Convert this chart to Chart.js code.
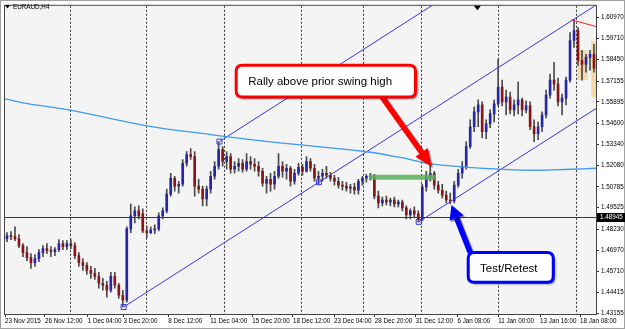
<!DOCTYPE html>
<html>
<head>
<meta charset="utf-8">
<script src="https://cdn.jsdelivr.net/npm/chart.js@4.4.0/dist/chart.umd.min.js"></script>
<title>EURAUD,H4</title>
<style>
  html, body { margin: 0; padding: 0; background: #fff; }
</style>
</head>
<body>
<canvas id="myChart" width="625" height="329"></canvas>
<script>
// EURAUD H4 candles, one entry per bar (bar index = position in array)
const opens = [
  1.4766, 1.4784, 1.4778, 1.4766, 1.4724, 1.4682, 1.4652, 1.4622, 1.4646, 1.4682,
  1.4706, 1.4694, 1.4688, 1.4700, 1.4736, 1.4718, 1.4736, 1.4724, 1.4664, 1.4622,
  1.4605, 1.4575, 1.4557, 1.4539, 1.4497, 1.4485, 1.4455, 1.4539, 1.4485, 1.4425,
  1.4396, 1.4825, 1.4903, 1.4933, 1.4915, 1.4813, 1.4802, 1.4819, 1.4825, 1.4903,
  1.4933, 1.5034, 1.5130, 1.5082, 1.5094, 1.5220, 1.5273, 1.5261, 1.5082, 1.5064,
  1.5005, 1.5064, 1.5142, 1.5202, 1.5303, 1.5231, 1.5261, 1.5184, 1.5202, 1.5220,
  1.5184, 1.5231, 1.5214, 1.5202, 1.5172, 1.5100, 1.5124, 1.5094, 1.5142, 1.5202,
  1.5172, 1.5190, 1.5112, 1.5160, 1.5196, 1.5172, 1.5231, 1.5190, 1.5130, 1.5142,
  1.5160, 1.5148, 1.5130, 1.5112, 1.5088, 1.5082, 1.5070, 1.5076, 1.5058, 1.5112,
  1.5130, 1.5142, 1.5136, 1.5022, 1.4981, 1.4999, 1.4987, 1.4999, 1.4975, 1.4987,
  1.4951, 1.4909, 1.4933, 1.4915, 1.4885, 1.5076, 1.5136, 1.5160, 1.5088, 1.5058,
  1.5028, 1.4999, 1.4993, 1.5088, 1.5160, 1.5202, 1.5321, 1.5440, 1.5530, 1.5572,
  1.5410, 1.5458, 1.5518, 1.5578, 1.5679, 1.5590, 1.5619, 1.5542, 1.5572, 1.5602,
  1.5542, 1.5566, 1.5440, 1.5399, 1.5440, 1.5512, 1.5631, 1.5721, 1.5697, 1.5590,
  1.5613, 1.5721, 1.5960, 1.6019, 1.5840, 1.5816, 1.5858, 1.5876
];
const highs = [
  1.4802, 1.4808, 1.4837, 1.4790, 1.4736, 1.4718, 1.4676, 1.4670, 1.4700, 1.4724,
  1.4736, 1.4718, 1.4712, 1.4760, 1.4754, 1.4754, 1.4760, 1.4742, 1.4682, 1.4646,
  1.4622, 1.4599, 1.4587, 1.4563, 1.4527, 1.4509, 1.4563, 1.4563, 1.4497, 1.4455,
  1.4837, 1.4975, 1.4957, 1.4963, 1.4945, 1.4843, 1.4837, 1.4849, 1.4921, 1.4951,
  1.5064, 1.5160, 1.5142, 1.5112, 1.5243, 1.5291, 1.5309, 1.5291, 1.5124, 1.5082,
  1.5082, 1.5172, 1.5231, 1.5351, 1.5321, 1.5291, 1.5279, 1.5231, 1.5249, 1.5243,
  1.5279, 1.5261, 1.5249, 1.5231, 1.5190, 1.5142, 1.5160, 1.5172, 1.5279, 1.5231,
  1.5214, 1.5202, 1.5184, 1.5220, 1.5214, 1.5261, 1.5249, 1.5214, 1.5172, 1.5184,
  1.5202, 1.5166, 1.5148, 1.5136, 1.5112, 1.5106, 1.5094, 1.5100, 1.5124, 1.5142,
  1.5154, 1.5160, 1.5154, 1.5052, 1.5016, 1.5022, 1.5010, 1.5016, 1.4999, 1.4999,
  1.4963, 1.4945, 1.4957, 1.4933, 1.5094, 1.5172, 1.5214, 1.5172, 1.5112, 1.5094,
  1.5052, 1.5040, 1.5112, 1.5184, 1.5231, 1.5351, 1.5482, 1.5560, 1.5602, 1.5590,
  1.5482, 1.5542, 1.5602, 1.5846, 1.5721, 1.5661, 1.5649, 1.5602, 1.5709, 1.5613,
  1.5596, 1.5590, 1.5482, 1.5470, 1.5530, 1.5661, 1.5757, 1.5828, 1.5733, 1.5637,
  1.5739, 1.6008, 1.6085, 1.6037, 1.5900, 1.5876, 1.5900, 1.5936
];
const lows = [
  1.4748, 1.4760, 1.4754, 1.4712, 1.4658, 1.4634, 1.4587, 1.4599, 1.4628, 1.4658,
  1.4676, 1.4658, 1.4664, 1.4688, 1.4700, 1.4700, 1.4706, 1.4646, 1.4599, 1.4575,
  1.4551, 1.4527, 1.4521, 1.4467, 1.4455, 1.4414, 1.4443, 1.4467, 1.4408, 1.4354,
  1.4384, 1.4802, 1.4861, 1.4885, 1.4802, 1.4772, 1.4796, 1.4796, 1.4813, 1.4885,
  1.4921, 1.5022, 1.5052, 1.5040, 1.5082, 1.5202, 1.5243, 1.5022, 1.5040, 1.4963,
  1.4963, 1.5040, 1.5124, 1.5184, 1.5202, 1.5184, 1.5160, 1.5160, 1.5172, 1.5166,
  1.5172, 1.5184, 1.5172, 1.5142, 1.5082, 1.5040, 1.5052, 1.5064, 1.5130, 1.5136,
  1.5124, 1.5082, 1.5094, 1.5148, 1.5148, 1.5166, 1.5172, 1.5112, 1.5094, 1.5112,
  1.5130, 1.5112, 1.5088, 1.5070, 1.5058, 1.5052, 1.5040, 1.5034, 1.5034, 1.5088,
  1.5106, 1.5118, 1.5005, 1.4951, 1.4963, 1.4969, 1.4963, 1.4957, 1.4957, 1.4933,
  1.4885, 1.4885, 1.4897, 1.4867, 1.4873, 1.5052, 1.5112, 1.5064, 1.5040, 1.5010,
  1.4981, 1.4975, 1.4981, 1.5076, 1.5130, 1.5184, 1.5309, 1.5410, 1.5440, 1.5375,
  1.5369, 1.5434, 1.5470, 1.5566, 1.5566, 1.5512, 1.5518, 1.5506, 1.5518, 1.5506,
  1.5524, 1.5422, 1.5351, 1.5363, 1.5410, 1.5494, 1.5613, 1.5661, 1.5566, 1.5512,
  1.5572, 1.5709, 1.5918, 1.5810, 1.5721, 1.5769, 1.5781, 1.5769
];
const closes = [
  1.4784, 1.4778, 1.4766, 1.4724, 1.4682, 1.4652, 1.4622, 1.4646, 1.4682, 1.4706,
  1.4694, 1.4688, 1.4700, 1.4736, 1.4718, 1.4736, 1.4724, 1.4664, 1.4622, 1.4605,
  1.4575, 1.4557, 1.4539, 1.4497, 1.4485, 1.4455, 1.4539, 1.4485, 1.4425, 1.4396,
  1.4825, 1.4903, 1.4933, 1.4903, 1.4813, 1.4802, 1.4819, 1.4825, 1.4903, 1.4933,
  1.5034, 1.5130, 1.5082, 1.5094, 1.5220, 1.5273, 1.5261, 1.5082, 1.5064, 1.5005,
  1.5064, 1.5142, 1.5202, 1.5303, 1.5231, 1.5261, 1.5184, 1.5202, 1.5220, 1.5184,
  1.5231, 1.5214, 1.5202, 1.5172, 1.5100, 1.5124, 1.5094, 1.5142, 1.5202, 1.5172,
  1.5190, 1.5112, 1.5160, 1.5196, 1.5172, 1.5231, 1.5190, 1.5130, 1.5142, 1.5160,
  1.5148, 1.5130, 1.5112, 1.5088, 1.5082, 1.5070, 1.5076, 1.5058, 1.5112, 1.5130,
  1.5142, 1.5136, 1.5022, 1.4981, 1.4999, 1.4987, 1.4999, 1.4975, 1.4987, 1.4951,
  1.4909, 1.4933, 1.4915, 1.4885, 1.5076, 1.5136, 1.5160, 1.5088, 1.5058, 1.5028,
  1.4999, 1.4993, 1.5088, 1.5160, 1.5202, 1.5321, 1.5440, 1.5530, 1.5572, 1.5410,
  1.5458, 1.5518, 1.5578, 1.5679, 1.5590, 1.5619, 1.5542, 1.5572, 1.5602, 1.5542,
  1.5566, 1.5440, 1.5399, 1.5440, 1.5512, 1.5631, 1.5721, 1.5697, 1.5590, 1.5613,
  1.5721, 1.5960, 1.6019, 1.5840, 1.5816, 1.5858, 1.5876, 1.5793
];

// right price scale
const priceTicks = [1.60970, 1.59710, 1.58450, 1.57155, 1.55895, 1.54600, 1.53340, 1.52080,
                    1.50785, 1.49525, 1.48230, 1.46970, 1.45710, 1.44415, 1.43155];
const bidPrice = 1.48945;

// time scale labels (bar index where each label starts)
const dateTicks = [0, 10, 20.7, 29.7, 40.9, 51.4, 61.9, 72.1, 82.4, 92.6, 102.8, 113.3, 123.5, 134, 144];
const dateLabels = ['23 Nov 2015', '26 Nov 12:00', '1 Dec 04:00', '3 Dec 20:00', '8 Dec 12:00',
                    '11 Dec 04:00', '15 Dec 20:00', '18 Dec 12:00', '23 Dec 04:00', '28 Dec 20:00',
                    '31 Dec 12:00', '6 Jan 08:00', '11 Jan 00:00', '13 Jan 16:00', '18 Jan 08:00'];
// dotted period separators
const separatorBars = [16.2, 35.4, 54.8, 74.1, 89.6, 104.3, 123.5, 143.0];

// moving average
const maBars   = [0, 6, 16, 35.5, 51.5, 66, 90, 99, 106, 116, 124, 133, 141.5, 148];
const maValues = [1.5608, 1.5578, 1.5542, 1.5446, 1.5393, 1.5351, 1.5291, 1.5255, 1.5220,
                  1.5196, 1.5184, 1.5178, 1.5184, 1.5190];

// channel lines [bar, price]
const channelA = [[29.7, 1.4354], [78.6, 1.5106], [148, 1.6173]];
const channelB = [[53.7, 1.5351], [110, 1.6218]];
const channelC = [[103.6, 1.4867], [148, 1.5550]];
const swingLevel = [[91.1, 1.5136], [107.8, 1.5136]];
const redLine = [[141.8, 1.6085], [148, 1.6044]];
// shaded boxes [fromBar, toBar, top, bottom]
const boxes = [[143.3, 146.0, 1.5900, 1.5721], [146.8, 148, 1.5954, 1.5619]];

const N = opens.length;
const barX = opens.map((_, i) => i + 0.5);
const bullColor = '#2626a8';
const bearColor = '#8c1414';
const wickColor = '#4a4a4a';
const chanColor = '#3535ee';

function pts(arr) { return arr.map(p => ({x: p[0], y: p[1]})); }

function roundRect(ctx, x, y, w, h, r) {
  ctx.beginPath();
  ctx.moveTo(x + r, y);
  ctx.lineTo(x + w - r, y); ctx.quadraticCurveTo(x + w, y, x + w, y + r);
  ctx.lineTo(x + w, y + h - r); ctx.quadraticCurveTo(x + w, y + h, x + w - r, y + h);
  ctx.lineTo(x + r, y + h); ctx.quadraticCurveTo(x, y + h, x, y + h - r);
  ctx.lineTo(x, y + r); ctx.quadraticCurveTo(x, y, x + r, y);
  ctx.closePath();
}

function arrow(ctx, x1, y1, x2, y2, color, w, hl, hw) {
  const a = Math.atan2(y2 - y1, x2 - x1);
  const bx = x2 - hl * Math.cos(a), by = y2 - hl * Math.sin(a);
  ctx.strokeStyle = color; ctx.lineWidth = w; ctx.lineCap = 'butt';
  ctx.beginPath(); ctx.moveTo(x1, y1); ctx.lineTo(bx, by); ctx.stroke();
  ctx.fillStyle = color;
  ctx.beginPath();
  ctx.moveTo(x2, y2);
  ctx.lineTo(bx + hw / 2 * Math.sin(a), by - hw / 2 * Math.cos(a));
  ctx.lineTo(bx - hw / 2 * Math.sin(a), by + hw / 2 * Math.cos(a));
  ctx.closePath(); ctx.fill();
}

function callout(ctx, x, y, w, h, color, text, align) {
  ctx.save();
  ctx.shadowColor = 'rgba(0,0,0,0.55)'; ctx.shadowOffsetX = 2; ctx.shadowOffsetY = 2; ctx.shadowBlur = 2;
  roundRect(ctx, x, y, w, h, 6);
  ctx.fillStyle = '#ffffff'; ctx.fill();
  ctx.shadowColor = 'transparent';
  ctx.lineWidth = 3; ctx.strokeStyle = color; ctx.stroke();
  ctx.fillStyle = '#000';
  ctx.font = '11.5px "Liberation Sans", Arial, sans-serif';
  ctx.textBaseline = 'middle';
  if (align === 'left') { ctx.textAlign = 'left'; ctx.fillText(text, x + 12, y + h / 2 + 1); }
  else { ctx.textAlign = 'center'; ctx.fillText(text, x + w / 2 - 2, y + h / 2 + 1); }
  ctx.restore();
}

const mt4Plugin = {
  id: 'mt4',
  beforeDraw(chart) {
    const {ctx, chartArea: a} = chart;
    ctx.save();
    ctx.fillStyle = '#ffffff';
    ctx.fillRect(0, 0, chart.width, chart.height);
    ctx.fillStyle = '#f4f4f4';
    ctx.fillRect(a.left, a.top, a.right - a.left, a.bottom - a.top);
    ctx.restore();
  },
  beforeDatasetsDraw(chart) {
    const {ctx, chartArea: a, scales: {x, y}} = chart;
    ctx.save();
    ctx.lineWidth = 1;
    ctx.strokeStyle = '#333';
    ctx.setLineDash([2, 2]);
    separatorBars.forEach(b => {
      const px = Math.round(x.getPixelForValue(b)) + 0.5;
      ctx.beginPath(); ctx.moveTo(px, a.top); ctx.lineTo(px, a.bottom); ctx.stroke();
    });
    ctx.setLineDash([]);
    ctx.fillStyle = 'rgba(245, 205, 140, 0.7)';
    boxes.forEach(bx => {
      const x1 = x.getPixelForValue(bx[0]), x2 = x.getPixelForValue(bx[1]);
      const y1 = y.getPixelForValue(bx[2]), y2 = y.getPixelForValue(bx[3]);
      ctx.fillRect(x1, y1, x2 - x1, y2 - y1);
    });
    const by = Math.round(y.getPixelForValue(bidPrice)) + 0.5;
    ctx.strokeStyle = '#3a3a3a';
    ctx.beginPath(); ctx.moveTo(a.left, by); ctx.lineTo(a.right, by); ctx.stroke();
    ctx.restore();
  },
  afterDraw(chart) {
    const {ctx, chartArea: a, scales: {x, y}} = chart;
    ctx.save();
    // frame
    ctx.strokeStyle = '#444'; ctx.lineWidth = 1;
    ctx.strokeRect(a.left - 0.5, a.top - 0.5, a.right - a.left + 1, a.bottom - a.top + 1);
    ctx.strokeStyle = '#a0a0a0';
    ctx.strokeRect(0.5, 0.5, chart.width - 1, chart.height - 1);

    // arrows, then callouts on top
    ctx.shadowColor = 'rgba(0,0,0,0.45)'; ctx.shadowOffsetX = 1.5; ctx.shadowOffsetY = 1.5; ctx.shadowBlur = 1;
    arrow(ctx, x.getPixelForValue(94.1), y.getPixelForValue(1.5631),
               x.getPixelForValue(106.8), y.getPixelForValue(1.5202), '#ff0000', 5.5, 17, 15);
    arrow(ctx, x.getPixelForValue(116.5), y.getPixelForValue(1.4682),
               x.getPixelForValue(111.8), y.getPixelForValue(1.4969), '#0000ff', 5.5, 14, 15);
    ctx.shadowColor = 'transparent';
    {
      const x1 = x.getPixelForValue(57.9), x2 = x.getPixelForValue(102.8);
      const y1 = y.getPixelForValue(1.5810), y2 = y.getPixelForValue(1.5619);
      callout(ctx, x1, y1, x2 - x1, y2 - y1, '#ff0000', 'Rally above prior swing high', 'left');
    }
    {
      const x1 = x.getPixelForValue(116.0), x2 = x.getPixelForValue(137.3);
      const y1 = y.getPixelForValue(1.4682), y2 = y.getPixelForValue(1.4503);
      callout(ctx, x1, y1, x2 - x1, y2 - y1, '#0000ff', 'Test/Retest', 'center');
    }

    // title
    ctx.fillStyle = '#000';
    ctx.beginPath(); ctx.moveTo(5, 5); ctx.lineTo(10, 5); ctx.lineTo(7.5, 8.5); ctx.closePath(); ctx.fill();
    ctx.font = '6.3px "Liberation Sans", Arial, sans-serif';
    ctx.textBaseline = 'middle'; ctx.textAlign = 'left';
    ctx.fillText('EURAUD,H4', 13, 7.5);

    // chart shift marker
    const sx = x.getPixelForValue(118.3);
    ctx.beginPath(); ctx.moveTo(sx - 3.5, a.top); ctx.lineTo(sx + 3.5, a.top); ctx.lineTo(sx, a.top + 4.5); ctx.closePath(); ctx.fill();

    // bid label
    const by = Math.round(y.getPixelForValue(bidPrice));
    ctx.fillStyle = '#000';
    ctx.fillRect(a.right + 1, by - 4, chart.width - a.right - 1, 9);
    ctx.fillStyle = '#fff';
    ctx.font = '6.3px "Liberation Sans", Arial, sans-serif';
    ctx.fillText(bidPrice.toFixed(5), a.right + 4, by + 0.5);
    ctx.restore();
  }
};

const ctx = document.getElementById('myChart');
new Chart(ctx, {
  type: 'bar',
  data: {
    datasets: [
      {
        type: 'line', label: 'MA', data: maBars.map((b, i) => ({x: b, y: maValues[i]})),
        borderColor: '#3e9bf2', borderWidth: 1.3, pointRadius: 0, tension: 0.4, order: 0
      },
      {
        type: 'line', label: 'channel A', data: pts(channelA),
        borderColor: chanColor, borderWidth: 1, pointRadius: [3.5, 3.5, 0], pointStyle: 'rect',
        pointBorderColor: chanColor, pointBackgroundColor: 'rgba(0,0,0,0)', pointBorderWidth: 1, order: 0
      },
      {
        type: 'line', label: 'channel B', data: pts(channelB),
        borderColor: chanColor, borderWidth: 1, pointRadius: [3.5, 0], pointStyle: 'rect',
        pointBorderColor: chanColor, pointBackgroundColor: 'rgba(0,0,0,0)', pointBorderWidth: 1, order: 0
      },
      {
        type: 'line', label: 'channel C', data: pts(channelC),
        borderColor: chanColor, borderWidth: 1, pointRadius: [3.5, 0], pointStyle: 'rect',
        pointBorderColor: chanColor, pointBackgroundColor: 'rgba(0,0,0,0)', pointBorderWidth: 1, order: 0
      },
      {
        type: 'line', label: 'swing high', data: pts(swingLevel),
        borderColor: 'rgba(90, 175, 90, 0.85)', borderWidth: 5, pointRadius: 0, order: 0
      },
      {
        type: 'line', label: 'red', data: pts(redLine),
        borderColor: '#ff2020', borderWidth: 1, pointRadius: 0, order: 0
      },
      {
        label: 'body', data: barX.map((b, i) => ({x: b, y: [opens[i], closes[i]]})),
        backgroundColor: closes.map((c, i) => c >= opens[i] ? bullColor : bearColor),
        barThickness: 2, grouped: false, order: 2
      },
      {
        label: 'wick', data: barX.map((b, i) => ({x: b, y: [lows[i], highs[i]]})),
        backgroundColor: wickColor, barThickness: 1, grouped: false, order: 3
      }
    ]
  },
  options: {
    responsive: false,
    devicePixelRatio: 1,
    animation: false,
    events: [],
    layout: { padding: { left: 3, top: 3, right: 0, bottom: 0 } },
    plugins: { legend: { display: false }, tooltip: { enabled: false } },
    scales: {
      x: {
        type: 'linear', min: 0, max: N, offset: false,
        grid: { display: true, drawOnChartArea: false, drawTicks: true, tickLength: 3, color: '#333', offset: false },
        border: { display: true, color: '#444' },
        afterBuildTicks: s => { s.ticks = dateTicks.map(v => ({value: v})); },
        afterFit: s => { s.height = 15; },
        ticks: {
          autoSkip: false, maxRotation: 0, minRotation: 0, align: 'start', padding: 0,
          color: '#000', font: { family: '"Liberation Sans", Arial, sans-serif', size: 6.3 },
          callback: (v, i) => dateLabels[i]
        }
      },
      y: {
        position: 'right', min: 1.4312, max: 1.6169,
        grid: { display: true, drawOnChartArea: false, drawTicks: true, tickLength: 3, color: '#333' },
        border: { display: true, color: '#444' },
        afterBuildTicks: s => { s.ticks = priceTicks.map(v => ({value: v})); },
        afterFit: s => { s.width = 29; },
        ticks: {
          padding: 2, color: '#000',
          font: { family: '"Liberation Sans", Arial, sans-serif', size: 6.3 },
          callback: v => v.toFixed(5)
        }
      }
    }
  },
  plugins: [mt4Plugin]
});
</script>
</body>
</html>
